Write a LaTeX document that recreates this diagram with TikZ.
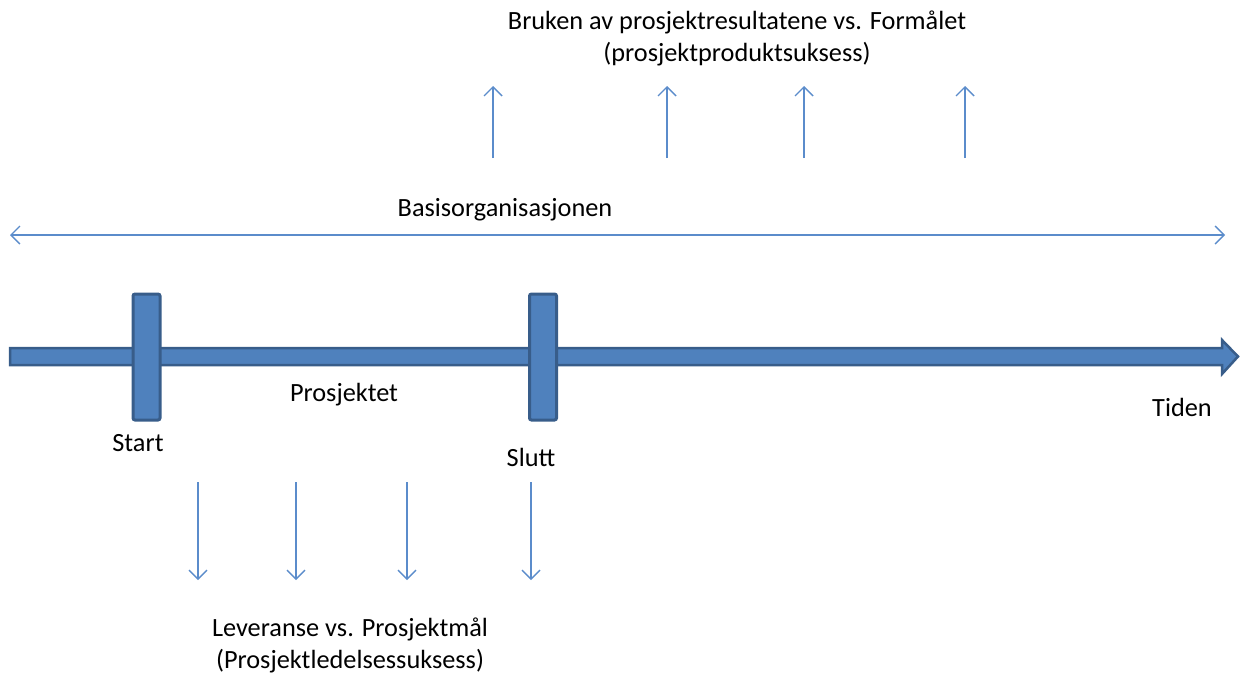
\documentclass[tikz,border=0pt]{standalone}
\usepackage{fontspec}
\setmainfont{Carlito}
\usetikzlibrary{arrows.meta}
\definecolor{axisfill}{HTML}{4F81BD}
\definecolor{axisline}{HTML}{385D8A}
\definecolor{thinarrow}{HTML}{5B8CCB}
\begin{document}
\begin{tikzpicture}[x=1pt,y=-1pt,
  lbl/.style={font=\fontsize{26.3}{32}\selectfont, text=black, inner sep=0pt, align=center},
  tip/.style={},
  thin/.style={draw=thinarrow, line width=1.4pt, -{Straight Barb[length=9pt,width=18pt,line width=1.4pt]}},
  bothways/.style={draw=thinarrow, line width=1.4pt, {Straight Barb[length=9pt,width=18pt,line width=1.4pt]}-{Straight Barb[length=9pt,width=18pt,line width=1.4pt]}},
  marker/.style={draw=axisline, fill=axisfill, line width=3pt, rounded corners=2pt,
    minimum width=27pt, minimum height=126pt, inner sep=0pt}]
\useasboundingbox (0,0) rectangle (1248,673);

% time axis
\draw[draw=axisline, fill=axisfill, line width=2.5pt, line join=miter]
  (10,348) -- (1222,348) -- (1222,340) -- (1238,356.5) -- (1222,374) -- (1222,365) -- (10,365) -- cycle;

% start and end markers
\node[marker] (start) at (146.5,357) {};
\node[marker] (slutt) at (543,357) {};

\node[lbl] (lstart) at (138,443) {Start};
\node[lbl] (lslutt) at (531,457) {Slutt};
\node[lbl] (lproj) at (344,395) {Prosjektet};
\node[lbl] (ltid) at (1182,407) {Tiden};

% base organisation span
\coordinate (bl) at (10,235);
\coordinate (br) at (1225,235);
\draw[bothways] (bl) -- (br);
\node[lbl] (lbasis) at (505,210) {Basisorganisasjonen};

% product success arrows
\foreach \x [count=\i] in {493,667,804,965}{
  \coordinate (ua\i) at (\x,158);
  \coordinate (ub\i) at (\x,86);
  \draw[thin] (ua\i) -- (ub\i);
}
\node[lbl] (ltop) at (737,38) {Bruken av prosjektresultatene vs. Formålet\\(prosjektproduktsuksess)};

% management success arrows
\foreach \x [count=\i] in {198,296,407,531}{
  \coordinate (da\i) at (\x,482);
  \coordinate (db\i) at (\x,580);
  \draw[thin] (da\i) -- (db\i);
}
\node[lbl] (lbot) at (350,645) {Leveranse vs. Prosjektmål\\(Prosjektledelsessuksess)};
\end{tikzpicture}
\end{document}
